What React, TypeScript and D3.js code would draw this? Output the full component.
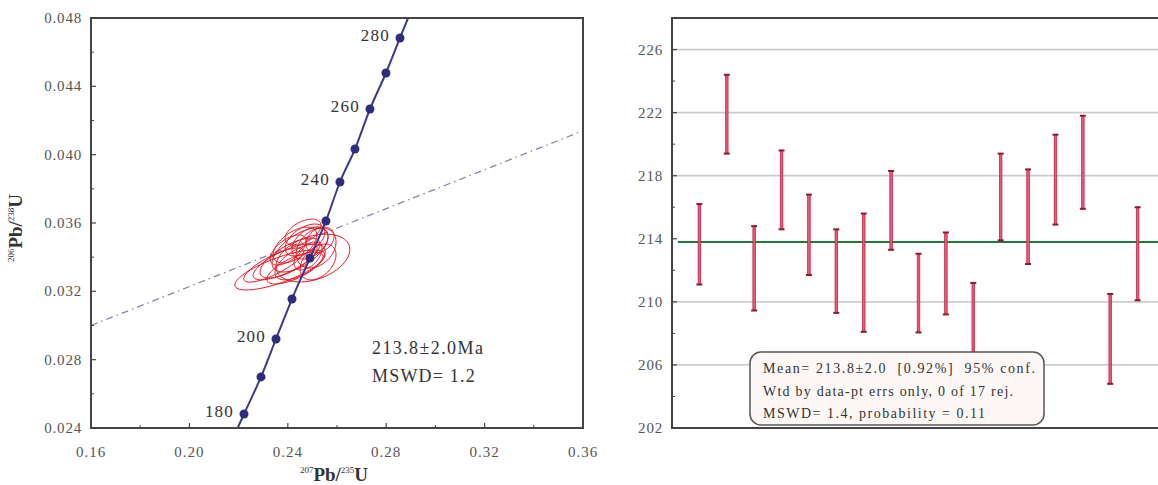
import React from "react";
import * as d3 from "d3";

// concordia diagram
const concAges = [180, 190, 200, 210, 220, 230, 240, 250, 260, 270, 280];
const concX = [0.2222, 0.2291, 0.2352, 0.2417, 0.249, 0.2555, 0.2612, 0.2673, 0.2734, 0.2799, 0.2856];
const concY = [0.02482, 0.02699, 0.02921, 0.03155, 0.03395, 0.03612, 0.0384, 0.04033, 0.04267, 0.04478, 0.04683];
const concEnds = [[0.2196, 0.024], [0.2889, 0.048]];
const labelAges = [180, 200, 240, 260, 280];
const discX = [0.16, 0.36];
const discY = [0.03, 0.0414];

// ellipses: center, half-widths, correlation
const ellCx = [0.2368, 0.2502, 0.245, 0.2429, 0.247, 0.2409, 0.249, 0.2389, 0.245, 0.2515, 0.2462, 0.2429, 0.2523, 0.2401, 0.2482, 0.2343, 0.2531];
const ellCy = [0.03325, 0.03395, 0.03442, 0.03471, 0.035, 0.03395, 0.03483, 0.03372, 0.03372, 0.03454, 0.03547, 0.03337, 0.03372, 0.03442, 0.03407, 0.03354, 0.035];
const ellSx = [0.0183, 0.015, 0.0114, 0.0089, 0.0081, 0.0122, 0.0073, 0.013, 0.0102, 0.0081, 0.0073, 0.0114, 0.0073, 0.0073, 0.0057, 0.0122, 0.0057];
const ellSy = [0.00117, 0.0014, 0.00129, 0.00105, 0.00094, 0.00117, 0.00094, 0.00105, 0.00105, 0.00117, 0.00076, 0.00094, 0.00105, 0.00088, 0.00082, 0.001, 0.00076];
const ellRho = [0.75, 0.35, 0.6, 0.55, 0.5, 0.7, 0.4, 0.75, 0.6, 0.3, 0.5, 0.7, 0.4, 0.6, 0.5, 0.8, 0.3];

const xTicks = [0.16, 0.2, 0.24, 0.28, 0.32, 0.36];
const yTicks = [0.024, 0.028, 0.032, 0.036, 0.04, 0.044, 0.048];

// weighted mean plot
const ageHi = [216.2, 224.4, 214.8, 219.6, 216.8, 214.6, 215.6, 218.3, 213.05, 214.4, 211.2, 219.4, 218.4, 220.6, 221.8, 210.5, 216.0];
const ageLo = [211.1, 219.4, 209.45, 214.6, 211.7, 209.3, 208.1, 213.3, 208.06, 209.2, 205.0, 213.9, 212.4, 214.9, 215.9, 204.8, 210.1];
const meanAge = 213.8;
const ageTicks = [202, 206, 210, 214, 218, 222, 226];
const boxLines = [
  "Mean= 213.8\u00b12.0  [0.92%]  95% conf.",
  "Wtd by data-pt errs only, 0 of 17 rej.",
  "MSWD= 1.4, probability = 0.11",
];
const boxWidths = [272, 250, 222];

const serif = "'Liberation Serif', 'DejaVu Serif', serif";
const axisCol = "#444";
const tickCol = "#555";

function Concordia() {
  const x = d3.scaleLinear().domain([0.16, 0.36]).range([91, 583]);
  const y = d3.scaleLinear().domain([0.024, 0.048]).range([428, 18]);
  const minorX = d3.range(0.18, 0.36, 0.04);
  const minorY = d3.range(0.026, 0.048, 0.004);

  const curvePts: [number, number][] = [
    [concEnds[0][0], concEnds[0][1]],
    ...concX.map((v, i) => [v, concY[i]] as [number, number]),
    [concEnds[1][0], concEnds[1][1]],
  ];
  const line = d3.line<[number, number]>().x((d) => x(d[0])).y((d) => y(d[1])).curve(d3.curveMonotoneX);

  const ellPath = (i: number) => {
    const pts: [number, number][] = d3.range(0, 2 * Math.PI + 0.01, Math.PI / 40).map((t) => [
      ellCx[i] + ellSx[i] * Math.cos(t),
      ellCy[i] + ellSy[i] * (ellRho[i] * Math.cos(t) + Math.sqrt(1 - ellRho[i] ** 2) * Math.sin(t)),
    ]);
    return d3.line<[number, number]>().x((d) => x(d[0])).y((d) => y(d[1]))(pts);
  };

  return (
    <g fontFamily={serif}>
      <defs>
        <clipPath id="concClip">
          <rect x={91} y={18} width={492} height={410} />
        </clipPath>
      </defs>
      {/* discordia */}
      <line
        x1={x(discX[0])} y1={y(discY[0])} x2={x(discX[1])} y2={y(discY[1])}
        stroke="#7f8aa8" strokeWidth={1.3} strokeDasharray="7,4,1.5,4"
      />
      {/* ellipses */}
      {ellCx.map((_, i) => (
        <path key={i} d={ellPath(i) || ""} fill="none" stroke="#e8141f" strokeWidth={1} />
      ))}
      {/* concordia */}
      <path d={line(curvePts) || ""} fill="none" stroke="#3b3a8c" strokeWidth={2} clipPath="url(#concClip)" />
      {concAges.map((a, i) => (
        <circle key={a} cx={x(concX[i])} cy={y(concY[i])} r={4.5} fill="#2f2b7d" />
      ))}
      {concAges.map((a, i) =>
        labelAges.includes(a) ? (
          <text key={a} x={x(concX[i]) - 10} y={y(concY[i]) + 3} textAnchor="end" fontSize={17} fill="#333" letterSpacing={1.2}>
            {a}
          </text>
        ) : null
      )}
      {/* frame */}
      <rect x={91} y={18} width={492} height={410} fill="none" stroke={axisCol} strokeWidth={2} />
      {xTicks.map((t) => (
        <g key={t}>
          <line x1={x(t)} x2={x(t)} y1={428} y2={423} stroke={axisCol} strokeWidth={1.2} />
          <text x={x(t)} y={457} textAnchor="middle" fontSize={15} fill={tickCol} letterSpacing={1}>
            {t.toFixed(2)}
          </text>
        </g>
      ))}
      {minorX.map((t) => (
        <line key={t} x1={x(t)} x2={x(t)} y1={428} y2={425} stroke={axisCol} strokeWidth={1} />
      ))}
      {yTicks.map((t) => (
        <g key={t}>
          <line x1={91} x2={96} y1={y(t)} y2={y(t)} stroke={axisCol} strokeWidth={1.2} />
          <text x={82} y={y(t) + 5} textAnchor="end" fontSize={15} fill={tickCol} letterSpacing={0.8}>
            {t.toFixed(3)}
          </text>
        </g>
      ))}
      {minorY.map((t) => (
        <line key={t} x1={91} x2={94} y1={y(t)} y2={y(t)} stroke={axisCol} strokeWidth={1} />
      ))}
      {/* result text */}
      <text x={372} y={354} fontSize={18} fill="#333" letterSpacing={1.4}>
        213.8±2.0Ma
      </text>
      <text x={372} y={382} fontSize={18} fill="#333" letterSpacing={1.2}>
        MSWD= 1.2
      </text>
      {/* axis titles */}
      <text x={334} y={481} textAnchor="middle" fontSize={19} fill="#333" fontWeight="bold">
        <tspan fontSize={9} dy={-8} fontWeight="normal">207</tspan>
        <tspan dy={8}>Pb/</tspan>
        <tspan fontSize={9} dy={-8} fontWeight="normal">235</tspan>
        <tspan dy={8}>U</tspan>
      </text>
      <text
        transform="translate(22,228) rotate(-90)"
        textAnchor="middle" fontSize={19} fill="#333" fontWeight="bold"
      >
        <tspan fontSize={9} dy={-8} fontWeight="normal">206</tspan>
        <tspan dy={8}>Pb/</tspan>
        <tspan fontSize={9} dy={-8} fontWeight="normal">238</tspan>
        <tspan dy={8}>U</tspan>
      </text>
    </g>
  );
}

function WeightedMean() {
  const x = d3.scaleLinear().domain([0, 18]).range([672, 1165]);
  const y = d3.scaleLinear().domain([202, 228]).range([428, 18]);
  const minor = d3.range(204, 228, 4);
  const idx = d3.range(1, ageHi.length + 1);

  return (
    <g fontFamily={serif}>
      {ageTicks
        .filter((t) => t !== 202 && t !== 214)
        .map((t) => (
          <line key={t} x1={672} x2={1158} y1={y(t)} y2={y(t)} stroke="#cccccc" strokeWidth={1.8} />
        ))}
      <line x1={678} x2={1158} y1={y(meanAge)} y2={y(meanAge)} stroke="#1d7a3a" strokeWidth={2} />
      {idx.map((n, i) => (
        <g key={n}>
          <rect
            x={x(n) - 1.3} y={y(ageHi[i])} width={2.6} height={y(ageLo[i]) - y(ageHi[i])}
            fill="#e45a78" stroke="#c01a40" strokeWidth={0.7}
          />
          <line x1={x(n) - 3} x2={x(n) + 3} y1={y(ageHi[i])} y2={y(ageHi[i])} stroke="#8c1a30" strokeWidth={2} />
          <line x1={x(n) - 3} x2={x(n) + 3} y1={y(ageLo[i])} y2={y(ageLo[i])} stroke="#8c1a30" strokeWidth={2} />
        </g>
      ))}
      {/* frame */}
      <line x1={672} x2={1158} y1={18} y2={18} stroke={axisCol} strokeWidth={2} />
      <line x1={672} x2={1158} y1={428} y2={428} stroke={axisCol} strokeWidth={2} />
      <line x1={672} x2={672} y1={17} y2={429} stroke={axisCol} strokeWidth={2} />
      {ageTicks.map((t) => (
        <g key={t}>
          <line x1={672} x2={677} y1={y(t)} y2={y(t)} stroke={axisCol} strokeWidth={1.2} />
          <text x={663} y={y(t) + 5} textAnchor="end" fontSize={15} fill={tickCol} letterSpacing={0.8}>
            {t}
          </text>
        </g>
      ))}
      {minor.map((t) => (
        <line key={t} x1={672} x2={675} y1={y(t)} y2={y(t)} stroke={axisCol} strokeWidth={1} />
      ))}
      {/* stats box */}
      <rect x={750} y={352} width={294} height={73} rx={11} fill="#fdf7f6" stroke="#555" strokeWidth={1.5} />
      {boxLines.map((s, i) => (
        <text
          key={i} x={763} y={373 + i * 22.5} fontSize={14} fill="#333"
          textLength={boxWidths[i]} lengthAdjust="spacing" style={{ whiteSpace: "pre" }}
        >
          {s}
        </text>
      ))}
    </g>
  );
}

export default function App() {
  return (
    <svg
      width={1158}
      height={485}
      style={{ position: "absolute", left: 0, top: 0, background: "#fff" }}
    >
      <Concordia />
      <WeightedMean />
    </svg>
  );
}
